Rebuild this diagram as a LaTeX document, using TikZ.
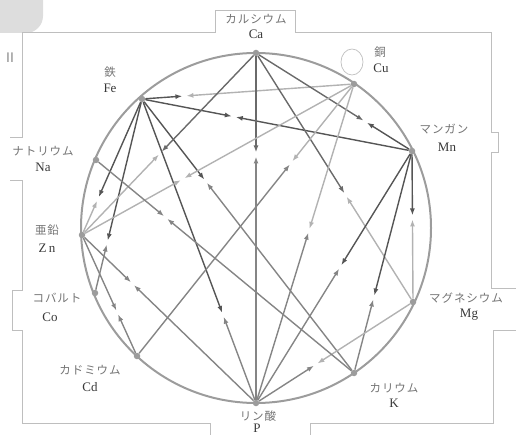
\documentclass[tikz,border=0pt]{standalone}
\usepackage{fontspec}
\setmainfont{Liberation Serif}
\newfontfamily\jp[LetterSpace=8]{Noto Sans CJK JP}
\newfontfamily\lsans{Liberation Sans}
\usetikzlibrary{calc,arrows.meta}
\definecolor{cdark}{HTML}{555555}
\definecolor{cca}{HTML}{6A6A6A}
\definecolor{cmed}{HTML}{858585}
\definecolor{clight}{HTML}{B2B2B2}
\definecolor{ccircle}{HTML}{9C9C9C}
\definecolor{cframe}{HTML}{BEBEBE}
\definecolor{cblob}{HTML}{DDDDDD}
\newcommand{\relpair}[5]{%
  \coordinate (m) at ($(#1)!#3!(#2)$);
  \draw[rel,#4] (#1) -- ($(m)!2pt!(#1)$);
  \draw[rel,#5] (#2) -- ($(m)!2pt!(#2)$);
}
\begin{document}
\begin{tikzpicture}[x=1pt,y=-1pt,
  dot/.style={circle,fill=ccircle,inner sep=0pt,minimum size=6.5pt},
  rel/.style={line width=1.4pt,-{Latex[length=7pt,width=5pt]}},
  jlab/.style={font=\jp\fontsize{11.5}{13}\selectfont,text=black!55,inner sep=0pt},
  elab/.style={font=\fontsize{13}{15}\selectfont,text=black!78,inner sep=0pt},
  framel/.style={draw=cframe,line width=0.8pt}]
\useasboundingbox (0,0) rectangle (516,435);
% decorations
\fill[cblob, rounded corners=17pt] (-40,-40) -- (43,-40) -- (43,33) -- (-40,33) -- cycle;
\node[font=\lsans\fontsize{14}{14}\selectfont, text=black!45, inner sep=0pt] (II) at (10,58) {II};
\draw[framel] (10,137) -- (22,137) -- (22,32) -- (215,32) -- (215,10) -- (295,10) -- (295,32) -- (491,32) -- (491,132) -- (498,132) -- (498,152) -- (491,152) -- (491,288) -- (517,288);
\draw[framel] (517,330) -- (493,330) -- (493,423) -- (310,423) -- (310,436);
\draw[framel] (210,436) -- (210,423) -- (22,423) -- (22,330) -- (12,330) -- (12,290) -- (22,290) -- (22,180) -- (10,180);
\draw[cframe, line width=0.7pt] (352,62) ellipse[x radius=11, y radius=13];
% circle
\draw[ccircle, line width=2pt] (256,228) circle[radius=175];
% nodes
\node[dot] (Ca) at (256,53) {};
\node[dot] (Cu) at (354,84) {};
\node[dot] (Mn) at (412,151) {};
\node[dot] (Mg) at (413,302) {};
\node[dot] (K) at (354,373) {};
\node[dot] (P) at (256,403) {};
\node[dot] (Cd) at (137,356) {};
\node[dot] (Co) at (95,293) {};
\node[dot] (Zn) at (82,235) {};
\node[dot] (Na) at (96,160) {};
\node[dot] (Fe) at (142,99) {};
% relations
\relpair{Fe}{Cu}{0.20}{cdark}{clight}
\relpair{Fe}{Mn}{0.34}{cdark}{cdark}
\relpair{Fe}{Zn}{0.735}{cdark}{clight}
\relpair{Fe}{Co}{0.74}{cdark}{cmed}
\relpair{Fe}{P}{0.71}{cdark}{cmed}
\relpair{Fe}{K}{0.30}{cdark}{cmed}
\relpair{Ca}{P}{0.29}{cca}{cmed}
\relpair{Ca}{Mn}{0.70}{cca}{cdark}
\relpair{Ca}{Mg}{0.57}{cca}{clight}
\relpair{Ca}{Zn}{0.55}{cca}{clight}
\relpair{Cu}{Cd}{0.29}{clight}{cmed}
\relpair{Cu}{P}{0.46}{clight}{cmed}
\relpair{Cu}{Zn}{0.63}{clight}{clight}
\relpair{Mn}{Mg}{0.44}{cdark}{clight}
\relpair{Mn}{P}{0.46}{cdark}{cmed}
\relpair{Mn}{K}{0.66}{cdark}{cmed}
\relpair{Mg}{P}{0.62}{clight}{cmed}
\relpair{Zn}{Cd}{0.64}{cmed}{cmed}
\relpair{Zn}{P}{0.29}{cmed}{cmed}
\relpair{Na}{K}{0.27}{cmed}{cmed}
% labels
\node[jlab] (lCa) at (256,19) {カルシウム}; \node[elab] (eCa) at (256,34) {Ca};
\node[jlab] (lFe) at (110,72) {鉄}; \node[elab] (eFe) at (110,88) {Fe};
\node[jlab] (lCu) at (380,52) {銅}; \node[elab] (eCu) at (381,68) {Cu};
\node[jlab] (lMn) at (444,129) {マンガン}; \node[elab] (eMn) at (447,147) {Mn};
\node[jlab] (lNa) at (43,151) {ナトリウム}; \node[elab] (eNa) at (43,167) {Na};
\node[jlab] (lZn) at (47,230) {亜鉛}; \node[elab] (eZn) at (47,248) {Z\,n};
\node[jlab] (lCo) at (57,298) {コバルト}; \node[elab] (eCo) at (50,317) {Co};
\node[jlab] (lCd) at (90,370) {カドミウム}; \node[elab] (eCd) at (90,387) {Cd};
\node[jlab] (lP) at (258,416) {リン酸}; \node[elab] (eP) at (257,428) {P};
\node[jlab] (lK) at (394,388) {カリウム}; \node[elab] (eK) at (394,403) {K};
\node[jlab] (lMg) at (466,298) {マグネシウム}; \node[elab] (eMg) at (469,315) {Mg};
\end{tikzpicture}
\end{document}
